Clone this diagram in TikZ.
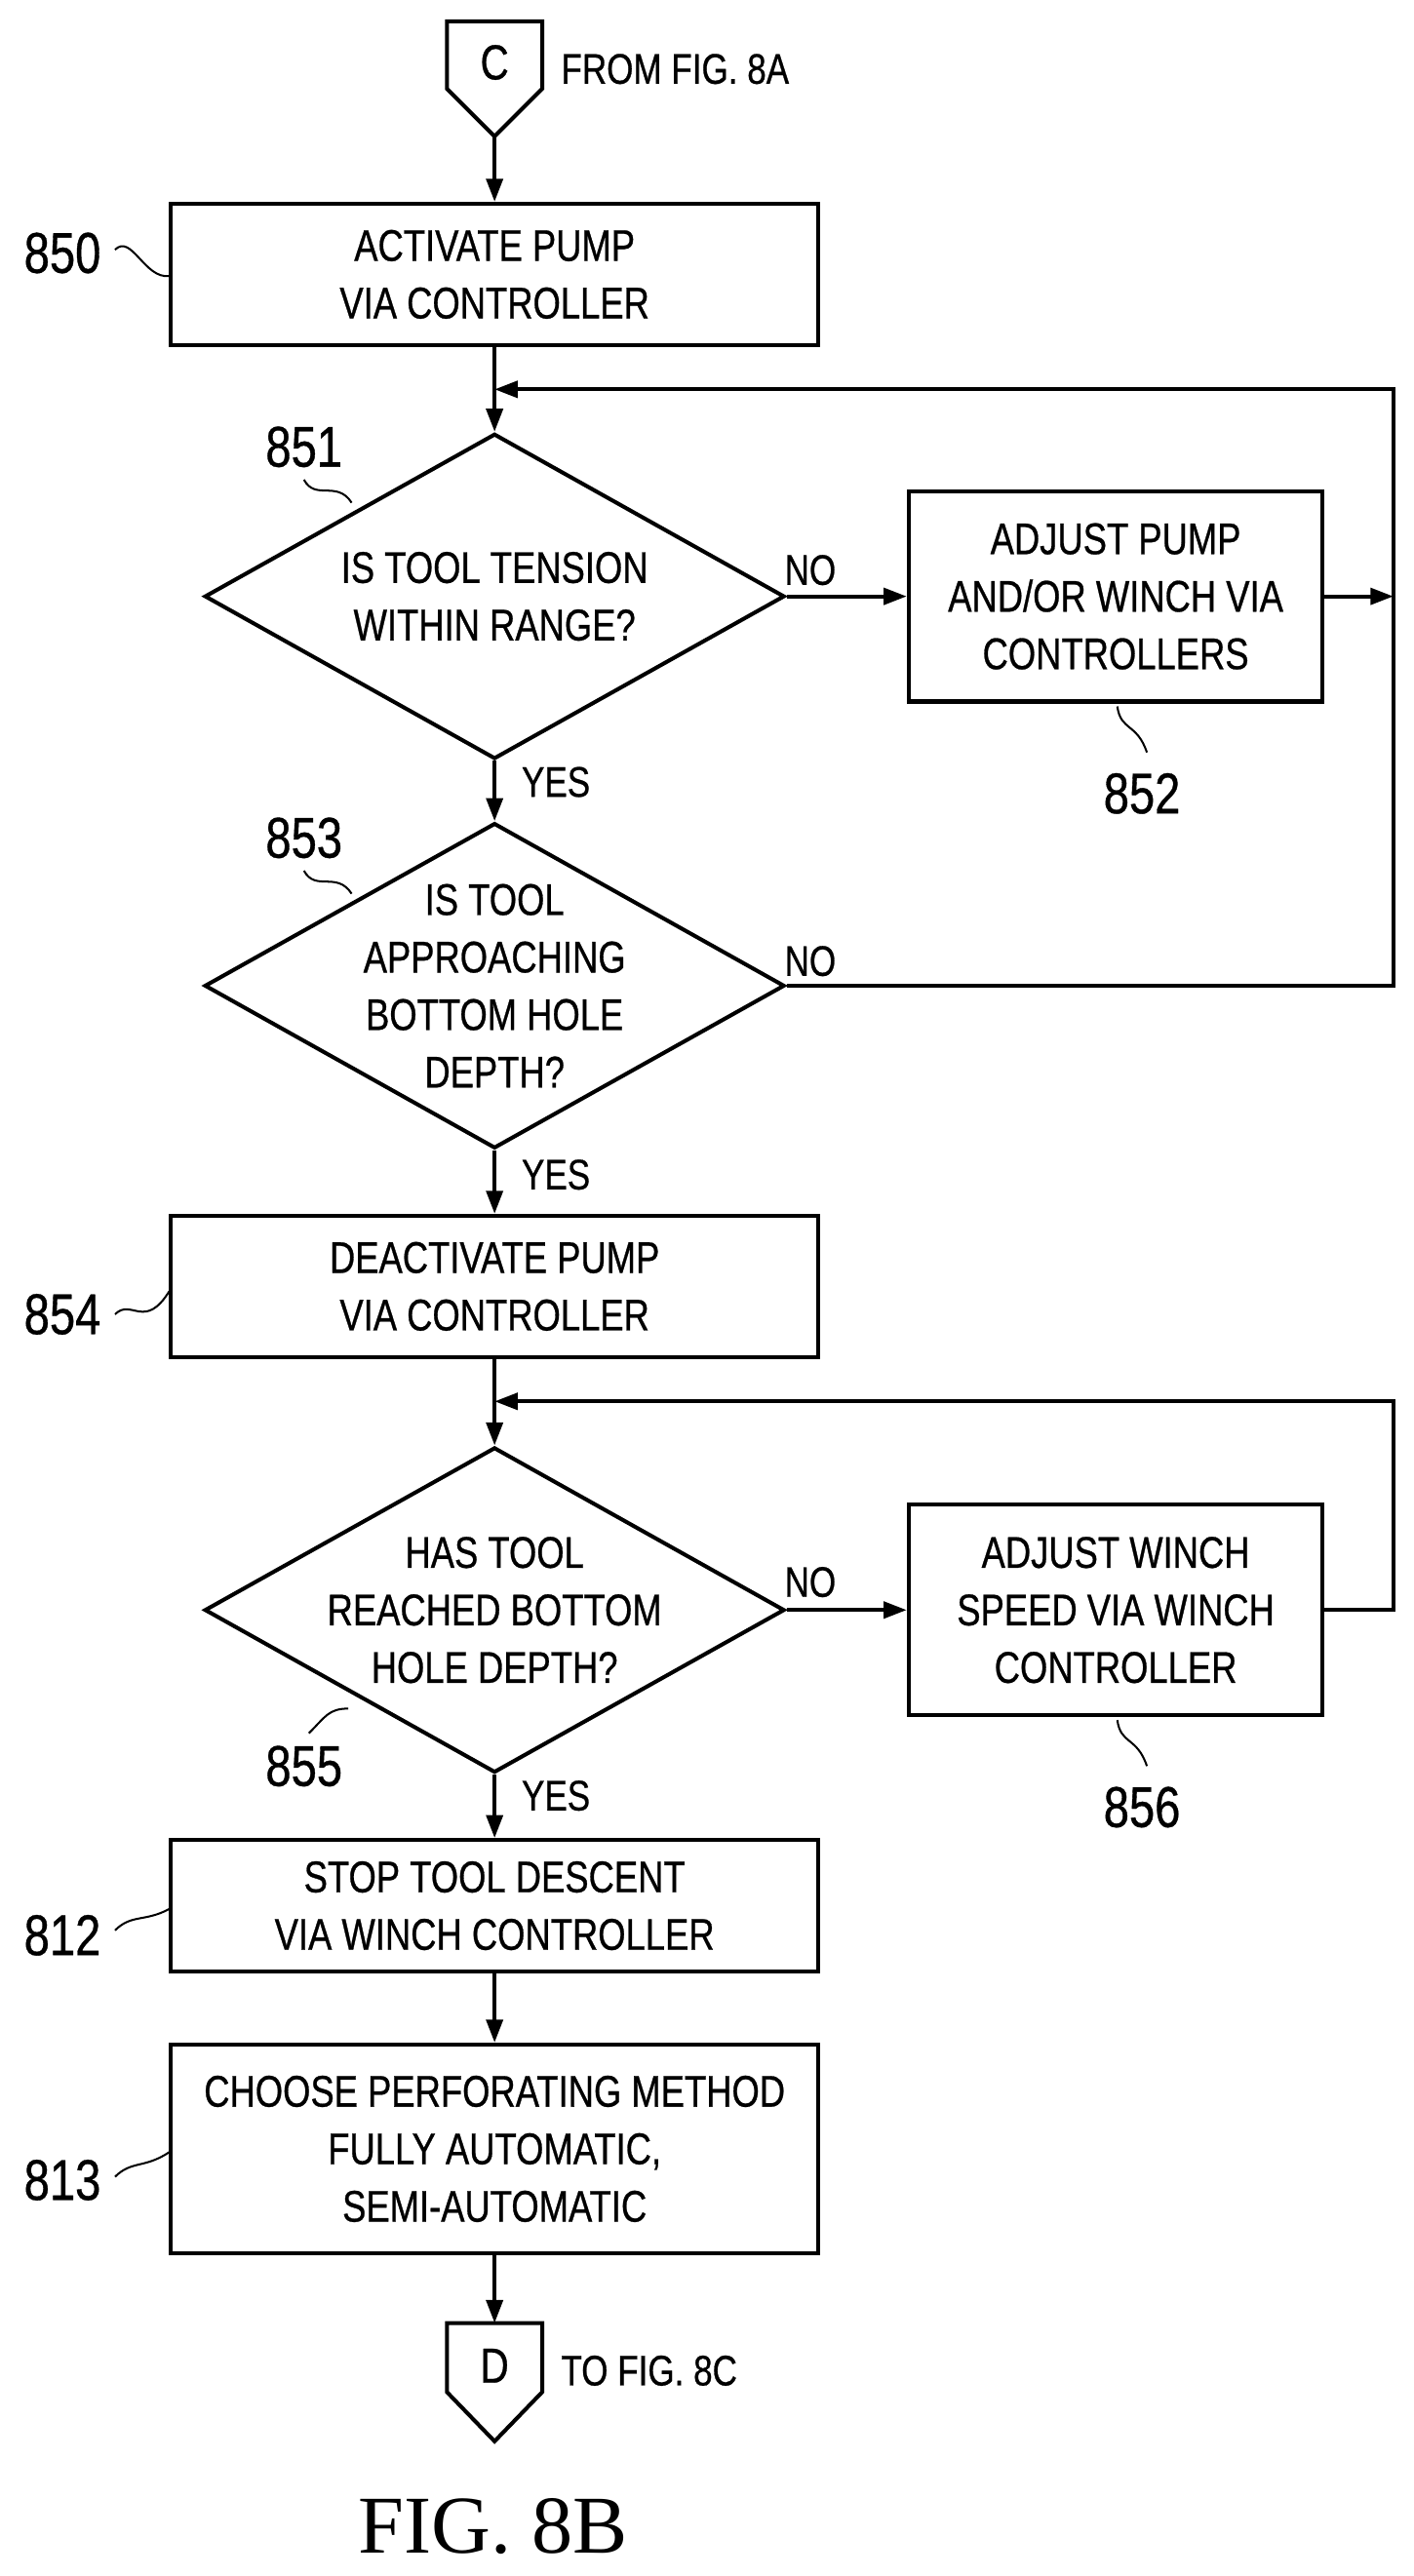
\documentclass[tikz,border=0pt]{standalone}
\usepackage{fontspec}
\setmainfont{Liberation Sans}[FakeStretch=0.8,FakeBold=0.6]
\newfontfamily\figfont{Liberation Serif}
\usetikzlibrary{arrows.meta,shapes.geometric}
\begin{document}
\begin{tikzpicture}[x=1pt,y=-1pt,
  ln/.style={line width=2.4pt},
  arr/.style={ln,-{Triangle[length=14pt,width=10pt]}},
  box/.style={draw,ln,rectangle,align=center,font=\fontsize{27}{35}\selectfont,inner sep=0pt},
  dia/.style={draw,ln,diamond,aspect=1.79,minimum width=353pt,minimum height=198pt,inner sep=0pt},
  dtx/.style={align=center,font=\fontsize{27}{35}\selectfont,inner sep=0pt},
  lab/.style={font=\fontsize{35}{40}\selectfont},
  txt/.style={font=\fontsize{26}{30}\selectfont,anchor=west},
  cl/.style={font=\fontsize{30}{34}\selectfont},
  sq/.style={line width=1.2pt}]
\useasboundingbox (0,0) rectangle (860,1568);
% connector C
\draw[ln,line join=miter] (272,13) -- (330,13) -- (330,54) -- (301,83) -- (272,54) -- cycle;
\node[cl] (c) at (301,38) {C};
\coordinate (cb) at (301,83);
\node[txt] (from) at (338,42) {FROM FIG. 8A};
% boxes
\node[box,minimum width=394pt,minimum height=86pt] (b850) at (301,167) {ACTIVATE PUMP\\VIA CONTROLLER};
\node[dia] (d851) at (301,363) {};
\node[dtx] (t851) at (301,363) {IS TOOL TENSION\\WITHIN RANGE?};
\node[box,minimum width=252pt,minimum height=128pt] (b852) at (679,363) {ADJUST PUMP\\AND/OR WINCH VIA\\CONTROLLERS};
\node[dia] (d853) at (301,600) {};
\node[dtx] (t853) at (301,600) {IS TOOL\\APPROACHING\\BOTTOM HOLE\\DEPTH?};
\node[box,minimum width=394pt,minimum height=86pt] (b854) at (301,783) {DEACTIVATE PUMP\\VIA CONTROLLER};
\node[dia] (d855) at (301,980) {};
\node[dtx] (t855) at (301,980) {HAS TOOL\\REACHED BOTTOM\\HOLE DEPTH?};
\node[box,minimum width=252pt,minimum height=128pt] (b856) at (679,980) {ADJUST WINCH\\SPEED VIA WINCH\\CONTROLLER};
\node[box,minimum width=394pt,minimum height=80pt] (b812) at (301,1160) {STOP TOOL DESCENT\\VIA WINCH CONTROLLER};
\node[box,minimum width=394pt,minimum height=127pt] (b813) at (301,1308) {CHOOSE PERFORATING METHOD\\FULLY AUTOMATIC,\\SEMI-AUTOMATIC};
% connector D
\draw[ln,line join=miter] (272,1414) -- (330,1414) -- (330,1456) -- (301,1486) -- (272,1456) -- cycle;
\node[cl] (d) at (301,1440) {D};
\coordinate (dt) at (301,1414);
\node[txt] (to) at (338,1443) {TO FIG. 8C};
% flow
\coordinate (m1) at (301,237);
\coordinate (r1) at (848,237);
\coordinate (r2) at (848,363);
\coordinate (r3) at (848,600);
\coordinate (m2) at (301,853);
\coordinate (r4) at (848,853);
\coordinate (r5) at (848,980);
\draw[arr] (cb) -- (b850.north);
\draw[arr] (b850.south) -- (d851.north);
\draw[arr] (d851.east) -- (b852.west);
\node[txt] (no1) at (474,347) {NO};
\draw[arr] (b852.east) -- (r2);
\draw[ln] (d853.east) -- (r3) -- (r2);
\draw[arr] (r2) -- (r1) -- (m1);
\draw[arr] (d851.south) -- (d853.north);
\node[txt] (y1) at (314,476) {YES};
\node[txt] (no2) at (474,585) {NO};
\draw[arr] (d853.south) -- (b854.north);
\node[txt] (y2) at (314,715) {YES};
\draw[arr] (b854.south) -- (d855.north);
\draw[arr] (d855.east) -- (b856.west);
\node[txt] (no3) at (474,963) {NO};
\draw[arr] (b856.east) -- (r5) -- (r4) -- (m2);
\draw[arr] (d855.south) -- (b812.north);
\node[txt] (y3) at (314,1093) {YES};
\draw[arr] (b812.south) -- (b813.north);
\draw[arr] (b813.south) -- (dt);
% labels
\node[lab] (l850) at (38,154) {850};
\draw[sq] (70,152) .. controls (80,142) and (88,170) .. (103,168);
\node[lab] (l851) at (185,272) {851};
\draw[sq] (185,292) .. controls (192,305) and (205,292) .. (214,306);
\node[lab] (l852) at (695,483) {852};
\draw[sq] (680,430) .. controls (682,445) and (692,440) .. (698,458);
\node[lab] (l853) at (185,510) {853};
\draw[sq] (185,530) .. controls (192,543) and (205,530) .. (214,544);
\node[lab] (l854) at (38,800) {854};
\draw[sq] (70,800) .. controls (80,790) and (88,810) .. (103,786);
\node[lab] (l855) at (185,1075) {855};
\draw[sq] (188,1055) .. controls (198,1045) and (200,1040) .. (212,1040);
\node[lab] (l856) at (695,1100) {856};
\draw[sq] (680,1047) .. controls (682,1062) and (692,1057) .. (698,1075);
\node[lab] (l812) at (38,1178) {812};
\draw[sq] (70,1175) .. controls (80,1165) and (88,1170) .. (103,1162);
\node[lab] (l813) at (38,1327) {813};
\draw[sq] (70,1325) .. controls (80,1315) and (88,1320) .. (103,1310);
\node[font=\figfont\fontsize{50}{54}\selectfont] (fig) at (300,1538) {FIG. 8B};
\end{tikzpicture}
\end{document}
